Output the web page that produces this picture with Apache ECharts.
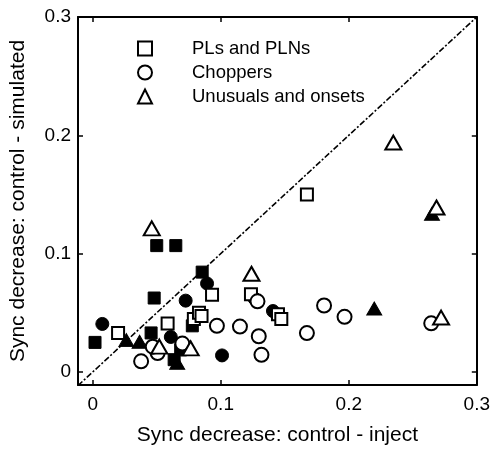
<!DOCTYPE html>
<html>
<head>
<meta charset="utf-8">
<script src="https://cdn.jsdelivr.net/npm/echarts@6/dist/echarts.min.js"></script>
<style>
  html, body { margin: 0; padding: 0; background: #fff; }
  #chart { width: 493px; height: 451px; }
</style>
</head>
<body>
<div id="chart"></div>
<script>
// Sync decrease: [control - inject, control - simulated]
const plOpen = [
  [0.1673, 0.150], [0.0198, 0.0329], [0.0585, 0.041], [0.0932, 0.0652],
  [0.1236, 0.0657], [0.079, 0.0447], [0.083, 0.050], [0.085, 0.0474],
  [0.1447, 0.0488], [0.1473, 0.0447]
];
const plFilled = [
  [0.0018, 0.025], [0.050, 0.1068], [0.0649, 0.1068], [0.048, 0.0625],
  [0.0456, 0.033], [0.0855, 0.0844], [0.0778, 0.039], [0.0687, 0.0187],
  [0.0636, 0.0104]
];
const chOpen = [
  [0.0378, 0.009], [0.0507, 0.0160], [0.0469, 0.0214], [0.070, 0.024],
  [0.097, 0.039], [0.115, 0.0384], [0.1297, 0.0302], [0.1318, 0.0145],
  [0.1287, 0.0597], [0.1673, 0.0329], [0.1807, 0.0562], [0.1967, 0.0466],
  [0.2644, 0.0411]
];
const chFilled = [
  [0.0075, 0.0406], [0.061, 0.0296], [0.0726, 0.0603], [0.0893, 0.0748],
  [0.101, 0.014], [0.1264, 0.062], [0.1408, 0.0515]
];
const unOpen = [
  [0.0461, 0.1214], [0.124, 0.083], [0.2348, 0.1939], [0.2685, 0.139],
  [0.2721, 0.046], [0.0765, 0.020], [0.052, 0.0214]
];
const unFilled = [
  [0.0263, 0.0269], [0.0366, 0.0255], [0.2199, 0.0537], [0.265, 0.1337],
  [0.066, 0.0077]
];
const unity = [[-0.0115, -0.0115], [0.3, 0.3]];

const tickValues = [0, 0.1, 0.2, 0.3];
const tickLabels = ['0', '0.1', '0.2', '0.3'];
const legendNames = ['PLs and PLNs', 'Choppers', 'Unusuals and onsets'];

const FONT = 'Liberation Sans, Arial, sans-serif';
const xRange = { min: -0.0115, max: 0.3 };
const yRange = { min: -0.011, max: 0.3 };

function fmt(v) {
  const i = tickValues.findIndex(t => Math.abs(t - v) < 1e-9);
  return i >= 0 ? tickLabels[i] : '';
}

function axisCommon(range, showLabels, margin) {
  return {
    type: 'value',
    min: range.min,
    max: range.max,
    splitLine: { show: false },
    axisLine: { show: true, onZero: false, lineStyle: { color: '#000', width: 2 } },
    axisTick: { show: true, inside: true, length: 5, customValues: tickValues,
                lineStyle: { color: '#000', width: 1.5 } },
    axisLabel: { show: showLabels, customValues: tickValues, formatter: fmt, margin: margin || 8,
                 color: '#000', fontSize: 19, fontFamily: FONT }
  };
}

const openStyle = { color: '#fff', borderColor: '#000', borderWidth: 2, opacity: 1 };
const filledStyle = { color: '#000', borderColor: '#000', borderWidth: 1, opacity: 1 };

const chart = echarts.init(document.getElementById('chart'), null, { renderer: 'canvas' });
chart.setOption({
  animation: false,
  backgroundColor: '#fff',
  grid: { left: 74, right: 13, top: 17, bottom: 55 },
  legend: {
    data: legendNames,
    orient: 'vertical',
    left: 132,
    top: 34,
    itemWidth: 14,
    itemHeight: 14,
    itemGap: 5,
    textStyle: { color: '#000', fontSize: 18.5, fontFamily: FONT, padding: [0, 0, 0, 35] }
  },
  xAxis: [
    Object.assign(axisCommon(xRange, true, 10), {
      position: 'bottom',
      name: 'Sync decrease: control - inject',
      nameLocation: 'middle',
      nameGap: 40,
      nameTextStyle: { color: '#000', fontSize: 21, fontFamily: FONT }
    }),
    Object.assign(axisCommon(xRange, false), { position: 'top' })
  ],
  yAxis: [
    Object.assign(axisCommon(yRange, true, 7), {
      position: 'left',
      name: 'Sync decrease: control - simulated',
      nameLocation: 'middle',
      nameGap: 49,
      nameTextStyle: { color: '#000', fontSize: 21, fontFamily: FONT }
    }),
    Object.assign(axisCommon(yRange, false), { position: 'right' })
  ],
  series: [
    {
      name: 'unity', type: 'line', data: unity, symbol: 'none', silent: true,
      lineStyle: { color: '#000', width: 1.6, type: [6, 2, 2, 2] }, z: 1
    },
    { name: 'PLs and PLNs', type: 'scatter', symbol: 'rect', symbolSize: 12,
      data: plOpen, itemStyle: openStyle, z: 3 },
    { name: 'PLs filled', type: 'scatter', symbol: 'rect', symbolSize: 12,
      data: plFilled, itemStyle: filledStyle, z: 2 },
    { name: 'Choppers', type: 'scatter', symbol: 'circle', symbolSize: 14,
      data: chOpen, itemStyle: openStyle, z: 3 },
    { name: 'Choppers filled', type: 'scatter', symbol: 'circle', symbolSize: 13,
      data: chFilled, itemStyle: filledStyle, z: 2 },
    { name: 'Unusuals and onsets', type: 'scatter', symbol: 'triangle', symbolSize: [16, 14],
      data: unOpen, itemStyle: openStyle, z: 3 },
    { name: 'Unusuals filled', type: 'scatter', symbol: 'triangle', symbolSize: [15, 13],
      data: unFilled, itemStyle: filledStyle, z: 2 }
  ]
});
</script>
</body>
</html>
